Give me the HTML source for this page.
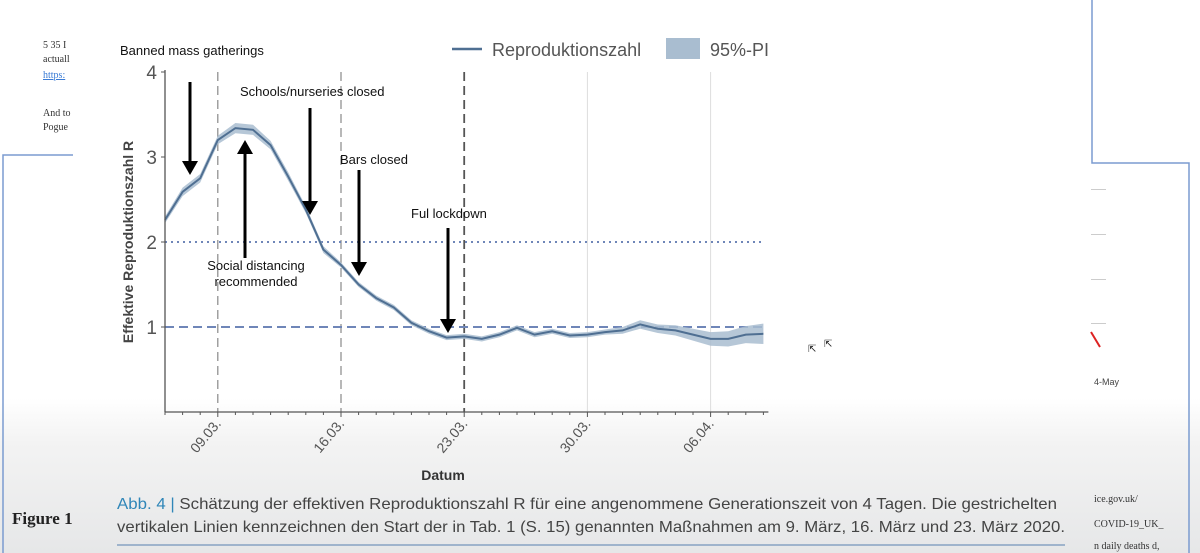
<!DOCTYPE html>
<html><head><meta charset="utf-8">
<style>
html,body{margin:0;padding:0;width:1200px;height:553px;overflow:hidden;background:#fff;font-family:"Liberation Sans",sans-serif}
svg{display:block}
</style></head>
<body>
<svg id="chart" width="1200" height="553" viewBox="0 0 1200 553" xmlns="http://www.w3.org/2000/svg">
<defs>
<linearGradient id="bg" x1="0" y1="0" x2="0" y2="1">
<stop offset="0" stop-color="#ffffff"/><stop offset="0.72" stop-color="#ffffff"/><stop offset="0.8" stop-color="#f3f3f3"/><stop offset="1" stop-color="#e6e7e8"/>
</linearGradient>
</defs>
<rect width="1200" height="553" fill="url(#bg)"/>
<!-- side document fragments -->
<g font-family="Liberation Serif, serif" font-size="10" fill="#333">
<text x="43" y="48">5 35 I</text><text x="43" y="62">actuall</text>
<text x="43" y="78" fill="#3a7bd5" text-decoration="underline">https:</text>
<text x="43" y="116">And to</text><text x="43" y="130">Pogue</text>
</g>
<path d="M3 553 V155 H73" fill="none" stroke="#7b9bd0" stroke-width="1.5"/>
<path d="M1092 0 V163 H1189 V553" fill="none" stroke="#7b9bd0" stroke-width="1.5"/>
<g fill="#ccc">
<rect x="1091" y="189" width="15" height="1"/><rect x="1091" y="234" width="15" height="1"/><rect x="1091" y="279" width="15" height="1"/><rect x="1091" y="323" width="15" height="1"/>
</g>
<path d="M1091 332 Q1097 342 1100 347" stroke="#d22" stroke-width="2" fill="none"/>
<text x="1094" y="385" font-size="9" fill="#444">4-May</text>
<g font-family="Liberation Serif, serif" font-size="10" fill="#333">
<text x="1094" y="502">ice.gov.uk/</text><text x="1094" y="527">COVID-19_UK_</text><text x="1094" y="549">n daily deaths d,</text>
</g>
<g id="plot"></g>
<g font-size="10" fill="#222"><text x="808" y="352">⇱</text><text x="824" y="347">⇱</text></g>
<text x="443" y="480" text-anchor="middle" font-size="14" font-weight="bold" fill="#333">Datum</text>
<text transform="translate(133 242) rotate(-90)" text-anchor="middle" font-size="14" font-weight="bold" fill="#444">Effektive Reproduktionszahl R</text>
<g>
<line x1="452" y1="49" x2="482" y2="49" stroke="#4f6f92" stroke-width="2.5"/>
<text x="492" y="56" font-size="18" fill="#555">Reproduktionszahl</text>
<rect x="666" y="38" width="34" height="21" fill="#a9bdd0"/>
<text x="710" y="56" font-size="18" fill="#555">95%-PI</text>
</g>
<text x="12" y="524" font-family="Liberation Serif, serif" font-size="17" font-weight="bold" fill="#222">Figure 1</text>
<g font-size="16" fill="#444">
<text x="117" y="509" textLength="940" lengthAdjust="spacingAndGlyphs"><tspan fill="#2f86b8">Abb. 4 |</tspan> Schätzung der effektiven Reproduktionszahl R für eine angenommene Generationszeit von 4 Tagen. Die gestrichelten</text>
<text x="117" y="532" textLength="948" lengthAdjust="spacingAndGlyphs">vertikalen Linien kennzeichnen den Start der in Tab. 1 (S. 15) genannten Maßnahmen am 9. März, 16. März und 23. März 2020.</text>
</g>
<line x1="117" y1="545" x2="1065" y2="545" stroke="#9fb4cc" stroke-width="2"/>
</svg>
<script>
const rValues=[2.26,2.59,2.75,3.2,3.34,3.32,3.14,2.77,2.38,1.91,1.73,1.5,1.34,1.23,1.05,0.95,0.875,0.89,0.86,0.91,0.99,0.91,0.95,0.9,0.91,0.94,0.96,1.03,0.98,0.96,0.91,0.86,0.86,0.91,0.92];
const piHalfWidth=[0.04,0.05,0.05,0.05,0.06,0.06,0.05,0.05,0.04,0.04,0.03,0.03,0.03,0.03,0.03,0.03,0.03,0.03,0.03,0.03,0.03,0.03,0.03,0.03,0.03,0.03,0.04,0.05,0.05,0.06,0.07,0.08,0.09,0.1,0.12];
const tickDayIdx=[3,10,17,24,31];
const tickLabels=["09.03.","16.03.","23.03.","30.03.","06.04."];
const yTicks=[1,2,3,4];
const measureDayIdx=[3,10,17];
const annotations=[
 {name:"banned-mass-gatherings",lines:["Banned mass gatherings"],tx:120,ty:55,anchor:"start",ax:190,y1:82,y2:175},
 {name:"schools-closed",lines:["Schools/nurseries closed"],tx:240,ty:96,anchor:"start",ax:310,y1:108,y2:215},
 {name:"bars-closed",lines:["Bars closed"],tx:340,ty:164,anchor:"start",ax:359,y1:170,y2:276},
 {name:"full-lockdown",lines:["Ful lockdown"],tx:411,ty:218,anchor:"start",ax:448,y1:228,y2:333},
 {name:"social-distancing",lines:["Social distancing","recommended"],tx:256,ty:270,anchor:"middle",ax:245,y1:258,y2:140}
];
const NS="http://www.w3.org/2000/svg";
const g=document.getElementById('plot');
const X0=165,DAY=17.6,Y0=412,UNIT=85;
const xs=i=>X0+i*DAY, ys=v=>Y0-v*UNIT;
function mk(tag,attrs,parent){const e=document.createElementNS(NS,tag);for(const k in attrs)e.setAttribute(k,attrs[k]);(parent||g).appendChild(e);return e;}
// grid verticals
tickDayIdx.forEach((d,i)=>{
 const meas=measureDayIdx.includes(d);
 const l=mk('line',{x1:xs(d),x2:xs(d),y1:ys(4),y2:Y0,stroke:meas?(i==2?'#555':'#888'):'#ddd','stroke-width':meas?(i==2?1.8:1.2):1,'stroke-dasharray':meas?'9 5':'none'});
 
 
});
// reference lines
const r2=mk('line',{x1:xs(0),x2:xs(34),y1:ys(2),y2:ys(2),stroke:'#6f86b8','stroke-width':2,'stroke-dasharray':'2 4'});


const r1=mk('line',{x1:xs(0),x2:xs(34),y1:ys(1),y2:ys(1),stroke:'#6f86b8','stroke-width':2,'stroke-dasharray':'9 5'});


// band
let up=rValues.map((v,i)=>xs(i)+','+ys(v+piHalfWidth[i]));
let lo=rValues.map((v,i)=>xs(i)+','+ys(v-piHalfWidth[i])).reverse();
const band=mk('polygon',{points:up.concat(lo).join(' '),fill:'#a9bdd0',opacity:0.85});


const line=mk('polyline',{points:rValues.map((v,i)=>xs(i)+','+ys(v)).join(' '),fill:'none',stroke:'#4f6f92','stroke-width':2});


// axes
const ya=mk('line',{x1:X0,x2:X0,y1:ys(4)-2,y2:Y0,stroke:'#555','stroke-width':1.3});


const xa=mk('line',{x1:X0,x2:xs(34)+5,y1:Y0,y2:Y0,stroke:'#555','stroke-width':1.3});


for(let d=0;d<rValues.length;d++){const t=mk('line',{x1:xs(d),x2:xs(d),y1:Y0,y2:Y0+(tickDayIdx.includes(d)?5:3),stroke:'#555'});}
yTicks.forEach(v=>{
 const t=mk('line',{x1:X0-4,x2:X0,y1:ys(v),y2:ys(v),stroke:'#555'});
 
 
 const tx=mk('text',{x:X0-8,y:ys(v)+7,'text-anchor':'end','font-size':19,fill:'#555'});
 tx.textContent=v;
 
 
});
tickDayIdx.forEach((d,i)=>{
 const tx=mk('text',{transform:`translate(${xs(d)+4} ${Y0+12}) rotate(-50)`,'text-anchor':'end','font-size':14,fill:'#555'});
 tx.textContent=tickLabels[i];
 
 
});
// annotations
annotations.forEach(a=>{
 const grp=mk('g',{});
 
 
 a.lines.forEach((s,k)=>{const t=mk('text',{x:a.tx,y:a.ty+k*16,'text-anchor':a.anchor,'font-size':13,fill:'#111'},grp);t.textContent=s;});
 const down=a.y2>a.y1, hh=14, tip=a.y2, base=down?tip-hh:tip+hh;
 mk('line',{x1:a.ax,x2:a.ax,y1:a.y1,y2:base,stroke:'#000','stroke-width':3},grp);
 mk('polygon',{points:`${a.ax-8},${base} ${a.ax+8},${base} ${a.ax},${tip}`,fill:'#000'},grp);
});
</script>
</body></html>
